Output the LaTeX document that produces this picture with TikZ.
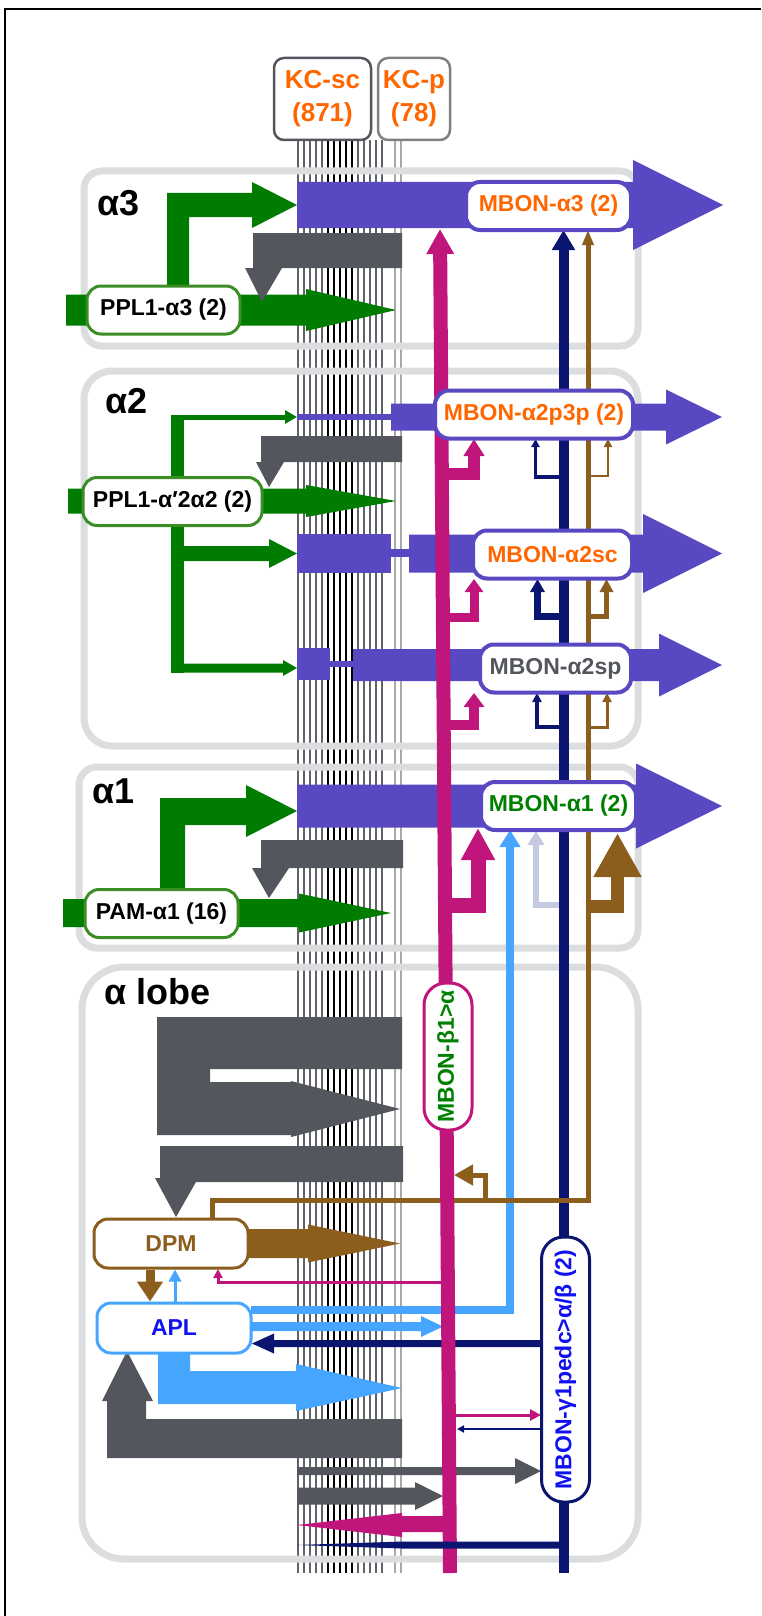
\documentclass[tikz,border=0pt]{standalone}
\usepackage{fontspec}
\setmainfont{Liberation Sans}
\usetikzlibrary{arrows.meta}
\definecolor{mbpurple}{HTML}{5849C2}
\definecolor{dagreen}{HTML}{007C00}
\definecolor{nodegreen}{HTML}{3B8E26}
\definecolor{kcgray}{HTML}{53565C}
\definecolor{linegray}{HTML}{5F6268}
\definecolor{palegray}{HTML}{A8A8A8}
\definecolor{mbmagenta}{HTML}{C0157A}
\definecolor{mbnavy}{HTML}{0A1570}
\definecolor{dpmbrown}{HTML}{8B5E1E}
\definecolor{aplblue}{HTML}{45A5FF}
\definecolor{lavender}{HTML}{C5CAE0}
\definecolor{boxgray}{HTML}{DCDDDF}
\definecolor{txtorange}{HTML}{FF6600}
\definecolor{txtblue}{HTML}{1010F0}
\definecolor{txtgreen}{HTML}{008000}
\newcommand{\nodefont}{\fontsize{23}{26}\selectfont\bfseries}
% fat arrow: colour, start x, head base x, tip x, centre y, body half, head half
\newcommand{\harrow}[7]{\fill[#1] (#2,#5-#6) -- (#3,#5-#6) -- (#3,#5-#7) -- (#4,#5) -- (#3,#5+#7) -- (#3,#5+#6) -- (#2,#5+#6) -- cycle;}
\begin{document}
\begin{tikzpicture}[x=1pt,y=-1pt,
  cell/.style={draw, fill=white, line width=3pt, rounded corners=14pt, minimum height=48pt, inner sep=0pt, font=\nodefont},
  mbon/.style={cell, draw=mbpurple, line width=4pt},
  region/.style={draw=boxgray, line width=7pt},
  lobe/.style={font=\fontsize{36}{40}\selectfont\bfseries, anchor=base west, inner sep=0pt},
  kc/.style={draw, fill=white, line width=2.5pt, rounded corners=10pt, minimum height=82pt, inner sep=0pt, text=txtorange, align=center, font=\fontsize{26}{33}\selectfont\bfseries}]
  \useasboundingbox (0,0) rectangle (761,1616);
  \draw[line width=1.5pt] (5,1616) -- (5,9) -- (761,9);
  % Kenyon cell fibres
  \foreach \x in {298,304,...,322} { \draw[linegray, line width=2.5pt] (\x,140) -- (\x,1573); }
  \foreach \x in {328,334,...,352} { \draw[black, line width=2.5pt] (\x,140) -- (\x,1573); }
  \foreach \x in {358,364,...,382} { \draw[linegray, line width=2.5pt] (\x,140) -- (\x,1573); }
  \foreach \x in {395,401} { \draw[palegray, line width=2.5pt] (\x,140) -- (\x,1573); }
  \node[kc, draw=kcgray, minimum width=97pt] (kcsc) at (322.5,99) {KC-sc\\(871)};
  \node[kc, draw=gray, minimum width=72pt] (kcp) at (414,99) {KC-p\\(78)};
  % compartments
  \draw[region, rounded corners=18pt] (84,171) rectangle (638,346);
  \draw[region, rounded corners=28pt] (84,371) rectangle (638,746);
  \draw[region, rounded corners=18pt] (79,767) rectangle (638,948);
  \draw[region, rounded corners=42pt] (82,967) rectangle (638,1559);
  \node[lobe] (la3) at (97,215) {α3};
  \node[lobe] (la2) at (105,413) {α2};
  \node[lobe] (la1) at (92,803) {α1};
  \node[lobe] (lal) at (104,1004) {α lobe};
  % MBON outputs
  \harrow{mbpurple}{297}{633}{723}{205}{23}{45}
  \fill[mbpurple] (297,414) rectangle (391,420);
  \harrow{mbpurple}{391}{666}{722}{417}{13.5}{27.5}
  \fill[mbpurple] (297,534) rectangle (391,573); \fill[mbpurple] (391,549) rectangle (409,557);
  \harrow{mbpurple}{409}{643}{722}{553.5}{19}{39.5}
  \fill[mbpurple] (297,648) rectangle (330,680); \fill[mbpurple] (330,661) rectangle (353,667);
  \harrow{mbpurple}{353}{659}{722}{665}{16}{31.5}
  \harrow{mbpurple}{297}{636}{722}{806}{21.5}{42.5}
  % dopaminergic inputs
  \harrow{dagreen}{66}{306}{396}{310}{15.5}{21}
  \fill[dagreen] (167,300) -- (167,193) -- (252,193) -- (252,182) -- (297,205) -- (252,228) -- (252,217) -- (189,217) -- (189,300) -- cycle;
  \harrow{dagreen}{68}{306}{396}{501}{12.5}{16}
  \fill[dagreen] (171,414.5) rectangle (184,672.5);
  \draw[dagreen, line width=5pt, -{Triangle[length=12pt,width=13pt]}] (171,417) -- (297,417);
  \harrow{dagreen}{184}{269}{297}{553.5}{7.5}{14.5}
  \harrow{dagreen}{171}{283}{297}{668}{4.5}{8}
  \harrow{dagreen}{63}{299}{391}{913}{14}{19.5}
  \fill[dagreen] (160,900) -- (160,798) -- (246,798) -- (246,785) -- (297,811) -- (246,837) -- (246,825) -- (185,825) -- (185,900) -- cycle;
  % KC outputs
  \fill[kcgray] (402,233) -- (253,233) -- (253,268) -- (245,268) -- (262,302) -- (282,268) -- (402,268) -- cycle;
  \fill[kcgray] (402,436) -- (261,436) -- (261,462) -- (256,462) -- (269,487) -- (284,462) -- (402,462) -- cycle;
  \fill[kcgray] (403,840) -- (261,840) -- (261,868) -- (252,868) -- (269,898) -- (289,868) -- (403,868) -- cycle;
  \fill[kcgray] (402,1017) -- (157,1017) -- (157,1135) -- (291,1135) -- (291,1137) -- (400,1109) -- (291,1081) -- (291,1082) -- (210,1082) -- (210,1069) -- (402,1069) -- cycle;
  \fill[kcgray] (403,1146) -- (160,1146) -- (160,1178) -- (155,1178) -- (176,1217) -- (196,1182) -- (403,1182) -- cycle;
  \fill[kcgray] (402,1419) -- (146,1419) -- (146,1401) -- (153,1401) -- (127,1351) -- (102,1401) -- (107,1401) -- (107,1458) -- (402,1458) -- cycle;
  \harrow{kcgray}{297}{515}{541}{1471}{4}{13}
  % APL and DPM
  \fill[aplblue] (158,1353) -- (190,1353) -- (190,1371) -- (296,1371) -- (296,1364) -- (402,1388) -- (296,1411) -- (296,1404) -- (158,1404) -- cycle;
  \harrow{aplblue}{251}{421}{443}{1326.5}{4.5}{10.5}
  \draw[aplblue, line width=8pt, -{Triangle[length=17pt,width=20pt]}] (251,1310) -- (510,1310) -- (510,830);
  \harrow{dpmbrown}{248}{308}{400}{1243.5}{14.5}{19}
  \draw[dpmbrown, line width=2.5pt, -{Triangle[length=8pt,width=8pt]}] (588,476) -- (608,476) -- (608,439);
  \draw[dpmbrown, line width=4.5pt, -{Triangle[length=13pt,width=13pt]}] (588,616.5) -- (606.5,616.5) -- (606.5,579);
  \draw[dpmbrown, line width=3pt, -{Triangle[length=9pt,width=9pt]}] (588,727) -- (607,727) -- (607,693);
  \draw[dpmbrown, line width=13pt, -{Triangle[length=44pt,width=45pt]}] (586,906.5) -- (617.5,906.5) -- (617.5,833);
  \draw[lavender, line width=6pt, -{Triangle[length=14pt,width=16pt]}] (560,905) -- (536,905) -- (536,831);
  \draw[mbnavy, line width=10pt, {Triangle[length=20pt,width=22pt]}-] (563.5,230) -- (563.5,1573);
  \draw[dpmbrown, line width=5pt, {Triangle[length=15pt,width=11pt]}-] (588,230) -- (588,1200) -- (212,1200) -- (212,1219);
  \draw[dpmbrown, line width=5pt, -{Triangle[length=19pt,width=20pt]}] (485,1200) -- (485,1175) -- (454,1175);
  \draw[mbnavy, line width=3.5pt, -{Triangle[length=8pt,width=8pt]}] (563.5,477) -- (535.5,477) -- (535.5,439);
  \draw[mbnavy, line width=7pt, -{Triangle[length=13pt,width=14pt]}] (563.5,616.5) -- (537.5,616.5) -- (537.5,579);
  \draw[mbnavy, line width=4pt, -{Triangle[length=9pt,width=9pt]}] (563.5,727) -- (537,727) -- (537,693);
  \harrow{mbnavy}{541}{274}{252}{1343.5}{3.5}{10}
  % MBON-beta1>alpha
  \draw[mbmagenta, line width=14pt, {Triangle[length=25pt,width=26pt]}-] (440,229) -- (450,1573);
  \draw[mbmagenta, line width=12pt, -{Triangle[length=17pt,width=20pt]}] (445,474) -- (474,474) -- (474,439);
  \draw[mbmagenta, line width=9pt, -{Triangle[length=13pt,width=18pt]}] (445,617.5) -- (474,617.5) -- (474,579);
  \draw[mbmagenta, line width=10pt, -{Triangle[length=14pt,width=20pt]}] (445,725) -- (474,725) -- (474,693);
  \draw[mbmagenta, line width=15pt, -{Triangle[length=32pt,width=32pt]}] (445,905) -- (478,905) -- (478,828);
  \draw[mbmagenta, line width=3pt, -{Triangle[length=9pt,width=9pt]}] (447,1282) -- (218,1282) -- (218,1269);
  \draw[mbmagenta, line width=3pt, -{Triangle[length=11pt,width=11pt]}] (449,1415) -- (541,1415);
  \fill[mbmagenta] (450,1516) -- (402,1516) -- (402,1513) -- (297,1525) -- (402,1537) -- (402,1532) -- (450,1532) -- cycle;
  \harrow{kcgray}{297}{415}{443}{1496}{8.5}{14}
  \draw[mbnavy, line width=2.5pt, -{Triangle[length=7pt,width=7pt]}] (541,1429) -- (457,1429);
  \fill[mbnavy] (563,1541.5) -- (402,1541.5) -- (297,1545) -- (402,1548.5) -- (563,1548.5) -- cycle;
  % neurons
  \node[mbon, text=txtorange, minimum width=165pt] (mbona3) at (548.5,206) {MBON-α3 (2)};
  \node[cell, draw=nodegreen, minimum width=153pt] (ppla3) at (163.5,310) {PPL1-α3 (2)};
  \node[mbon, text=txtorange, minimum width=198pt] (mbona2p3p) at (534,414.5) {MBON-α2p3p (2)};
  \node[cell, draw=nodegreen, minimum width=179pt] (ppla2) at (172.5,501.5) {PPL1-α′2α2 (2)};
  \node[mbon, text=txtorange, minimum width=159pt] (mbona2sc) at (552.5,554.5) {MBON-α2sc};
  \node[mbon, text=kcgray, minimum width=151pt] (mbona2sp) at (555.5,668.5) {MBON-α2sp};
  \node[mbon, text=txtgreen, minimum width=155pt] (mbona1) at (558.5,806) {MBON-α1 (2)};
  \node[cell, draw=nodegreen, minimum width=153pt] (pama1) at (161.5,913.5) {PAM-α1 (16)};
  \node[cell, draw=dpmbrown, text=dpmbrown, minimum width=154pt, minimum height=49pt] (dpm) at (171,1243.5) {DPM};
  \node[cell, draw=aplblue, text=txtblue, minimum width=154pt, minimum height=50pt] (apl) at (174,1328) {APL};
  \node[cell, draw=mbmagenta, text=txtgreen, rotate=90, minimum width=147pt, rounded corners=22pt] (mbonb1) at (448,1056.5) {MBON-β1>α};
  \node[cell, draw=mbnavy, text=txtblue, rotate=90, minimum width=265pt, rounded corners=22pt] (mbong1) at (565.5,1369.5) {MBON-γ1pedc>α/β (2)};
  \draw[aplblue, line width=3pt, -{Triangle[length=12pt,width=12pt]}] ([xshift=1pt]apl.north) -- ([xshift=1pt]apl.north |- dpm.south);
  \draw[dpmbrown, line width=9pt, -{Triangle[length=20pt,width=25pt]}] ([xshift=-21pt]dpm.south) -- ([xshift=-21pt]dpm.south |- apl.north);
\end{tikzpicture}
\end{document}
